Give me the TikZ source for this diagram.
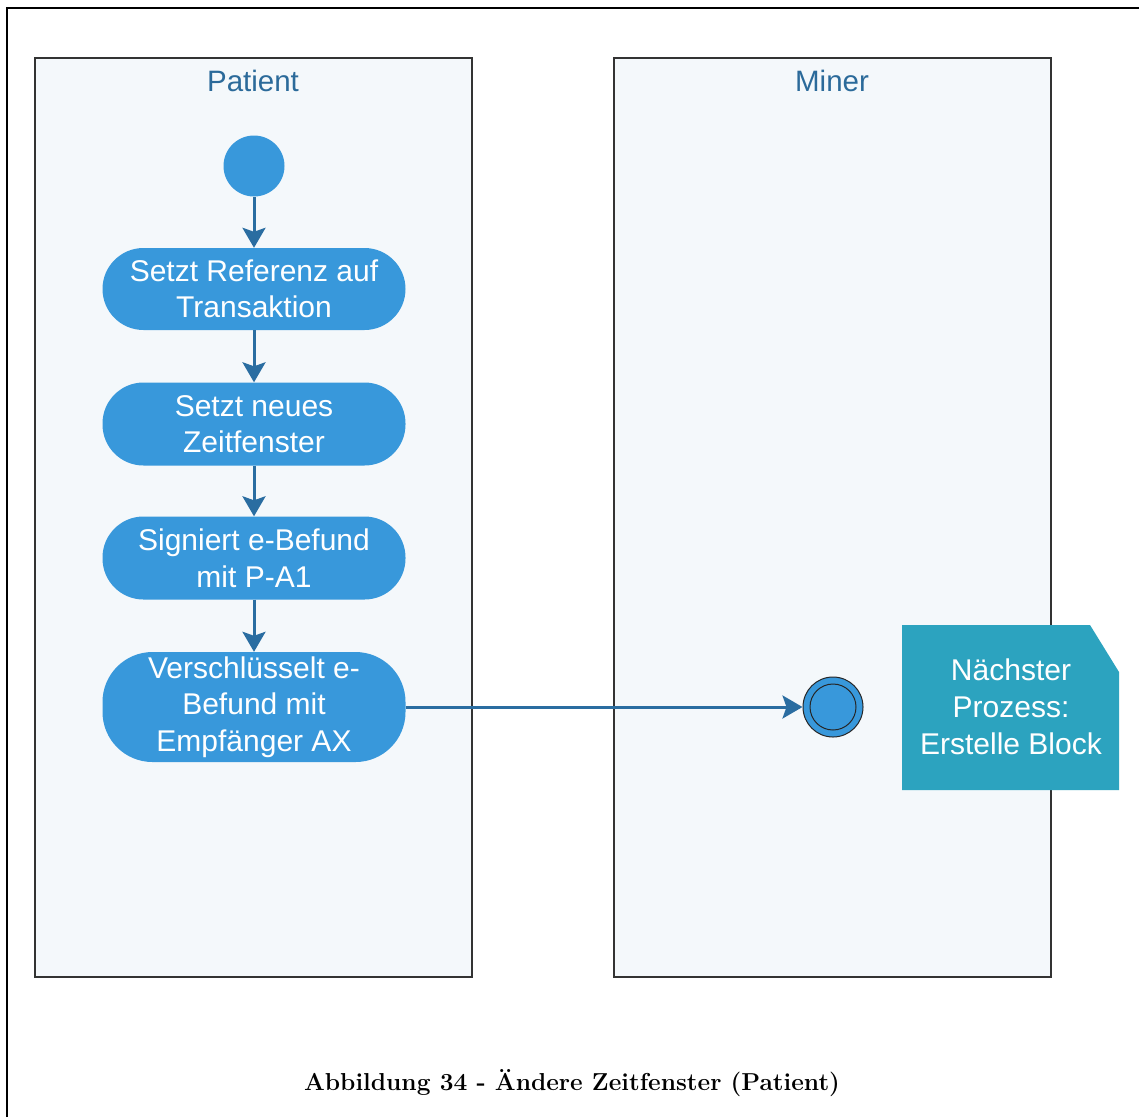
\documentclass[tikz,border=0pt]{standalone}
\usepackage{fontspec}
\newfontfamily\diagfont{Liberation Sans}
\usetikzlibrary{arrows.meta}
\definecolor{laneFill}{HTML}{F4F8FB}
\definecolor{laneLine}{HTML}{333333}
\definecolor{titleBlue}{HTML}{2B6A9A}
\definecolor{actFill}{HTML}{3898DB}
\definecolor{flowBlue}{HTML}{2A6DA1}
\definecolor{noteFill}{HTML}{2CA3BF}
\begin{document}
\begin{tikzpicture}[x=1pt,y=-1pt,
  lane/.style={draw=laneLine,line width=2pt,fill=laneFill},
  lanetitle/.style={font=\diagfont\fontsize{29.5}{34}\selectfont,text=titleBlue},
  activity/.style={fill=actFill,rounded corners=41pt,minimum width=303pt,
    inner sep=0pt,align=center,text=white,
    font=\diagfont\fontsize{30}{36.5}\selectfont},
  flow/.style={draw=flowBlue,line width=3pt,
    -{Stealth[length=20pt,width=23pt,inset=4pt]}},
  notetext/.style={align=center,text=white,font=\diagfont\fontsize{30}{37}\selectfont}]
\useasboundingbox (0,0) rectangle (1139,1117);
\fill[white] (0,0) rectangle (1139,1117);
% outer frame
\draw[line width=2.5pt] (7,1117) -- (7,8) -- (1139,8);
% swimlanes
\draw[lane] (35,58) rectangle (472,977);
\draw[lane] (614,58) rectangle (1051,977);
\node[lanetitle] (tpatient) at (253,81) {Patient};
\node[lanetitle] (tminer) at (832,81) {Miner};
% start and end
\node[circle,fill=actFill,minimum size=61pt,inner sep=0pt] (start) at (254,166) {};
\node[circle,draw=black!85,line width=1pt,fill=actFill,minimum size=60pt,inner sep=0pt] (end) at (833,707) {};
\node[circle,draw=black!85,line width=1pt,minimum size=46pt,inner sep=0pt] (endin) at (833,707) {};
% activities
\node[activity,minimum height=82pt] (a1) at (254,289) {Setzt Referenz auf\\Transaktion};
\node[activity,minimum height=83pt] (a2) at (254,424) {Setzt neues\\Zeitfenster};
\node[activity,minimum height=83pt] (a3) at (254,558) {Signiert e-Befund\\mit P-A1};
\node[activity,minimum height=110pt,rounded corners=50pt] (a4) at (254,707) {Verschlüsselt e-\\Befund mit\\Empfänger AX};
% note
\fill[noteFill] (902,625) -- (1090,625) -- (1119,672) -- (1119,790) -- (902,790) -- cycle;
\node[notetext] (note) at (1011,707) {Nächster\\Prozess:\\Erstelle Block};
% flows
\draw[flow] (start) -- (a1);
\draw[flow] (a1) -- (a2);
\draw[flow] (a2) -- (a3);
\draw[flow] (a3) -- (a4);
\draw[flow] (a4) -- (end);
% caption
\node[font=\bfseries\fontsize{24.5}{28}\selectfont] (caption) at (572,1083) {Abbildung 34 - Ändere Zeitfenster (Patient)};
\end{tikzpicture}
\end{document}
